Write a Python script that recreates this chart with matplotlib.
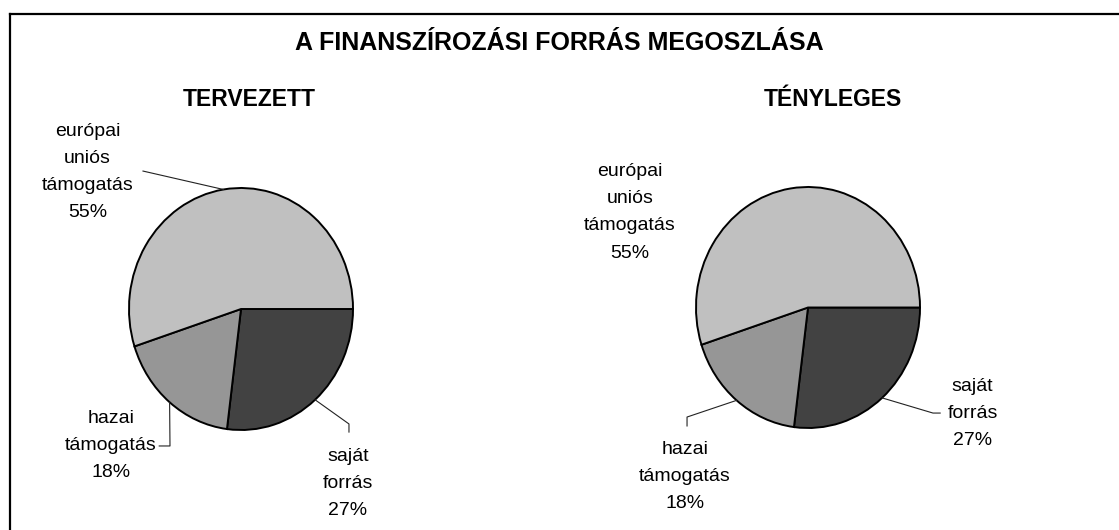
import matplotlib
matplotlib.use("Agg")
import matplotlib.pyplot as plt
import numpy as np
from matplotlib.lines import Line2D

title = "A FINANSZÍROZÁSI FORRÁS MEGOSZLÁSA"
panel_titles = ["TERVEZETT", "TÉNYLEGES"]
categories = ["saját\nforrás", "hazai\ntámogatás", "európai\nuniós\ntámogatás"]
planned = [27, 18, 55]
actual = [27, 18, 55]
colors = ["#424242", "#969696", "#C0C0C0"]

# label layout per panel (axes data units, pie radius = 1): text centre, leader path
layouts = [
    {
        0: {"text": (0.955, -1.44), "path": [(0.964, -1.017), (0.964, -0.95)]},
        1: {"text": (-1.16, -1.13), "path": [(-0.73, -1.132), (-0.634, -1.132)]},
        2: {"text": (-1.37, 1.13), "path": [(-0.875, 1.14)]},
    },
    {
        0: {"text": (1.47, -0.88), "path": [(1.18, -0.876), (1.116, -0.876)]},
        1: {"text": (-1.10, -1.40), "path": [(-1.08, -0.983), (-1.08, -0.909)]},
        2: {"text": (-1.59, 0.79), "path": None},
    },
]

W, H = 1119, 530
plt.rcParams["font.family"] = ["Liberation Sans", "DejaVu Sans"]
fig = plt.figure(figsize=(W / 100, H / 100), dpi=100)
fig.patch.set_facecolor("white")

# chart frame (right and bottom edges fall outside the picture)
fx, fy = 9.5 / W, 1 - 13.5 / H
fig.add_artist(Line2D([fx, fx], [0, fy], transform=fig.transFigure, color="black", lw=1.6))
fig.add_artist(Line2D([fx, 1], [fy, fy], transform=fig.transFigure, color="black", lw=1.6))

fig.text(0.5, 1 - 43 / H, title, ha="center", va="center", fontsize=18, fontweight="bold")

pie_boxes = [(129, 188, 224, 242), (696, 187, 224, 241)]
title_x = [249, 833]

for idx, (values, box) in enumerate(zip([planned, actual], pie_boxes)):
    x0, y0, w, h = box
    ax = fig.add_axes([x0 / W, 1 - (y0 + h) / H, w / W, h / H])
    wedges, _ = ax.pie(
        values,
        colors=colors,
        startangle=0,
        counterclock=False,
        wedgeprops={"edgecolor": "black", "linewidth": 1.4},
    )
    ax.set_aspect("auto")
    ax.set_xlim(-1, 1)
    ax.set_ylim(-1, 1)
    ax.axis("off")

    fig.text(title_x[idx] / W, 1 - 99 / H, panel_titles[idx], ha="center", va="center",
             fontsize=16.5, fontweight="bold")

    total = sum(values)
    for i, wedge in enumerate(wedges):
        lay = layouts[idx][i]
        pct = f"{round(100 * values[i] / total)}%"
        tx, ty = lay["text"]
        ax.text(tx, ty, f"{categories[i]}\n{pct}", ha="center", va="center",
                fontsize=14, linespacing=1.78, clip_on=False)
        if lay["path"] is not None:
            mid = np.deg2rad((wedge.theta1 + wedge.theta2) / 2)
            pts = lay["path"] + [(np.cos(mid), np.sin(mid))]
            xs, ys = zip(*pts)
            ax.plot(xs, ys, color="#222222", lw=0.8, clip_on=False)

fig.savefig("out.png", dpi=100)
